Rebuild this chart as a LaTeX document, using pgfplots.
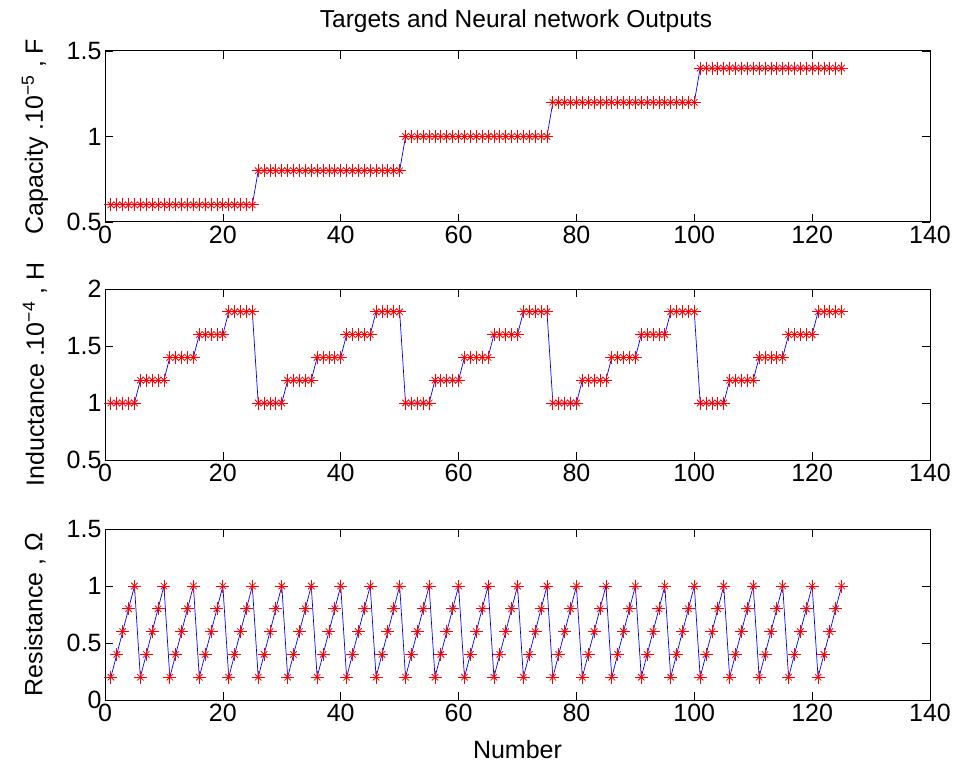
\documentclass[border=0pt]{standalone}
\usepackage{fontspec}
\setmainfont{Liberation Sans}
\usepackage{pgfplots}
\usepackage{pgfplotstable}
\pgfplotsset{compat=1.18}
\pgfplotstableread{
x C L R
1 0.6 1.0 0.2
2 0.6 1.0 0.4
3 0.6 1.0 0.6
4 0.6 1.0 0.8
5 0.6 1.0 1.0
6 0.6 1.2 0.2
7 0.6 1.2 0.4
8 0.6 1.2 0.6
9 0.6 1.2 0.8
10 0.6 1.2 1.0
11 0.6 1.4 0.2
12 0.6 1.4 0.4
13 0.6 1.4 0.6
14 0.6 1.4 0.8
15 0.6 1.4 1.0
16 0.6 1.6 0.2
17 0.6 1.6 0.4
18 0.6 1.6 0.6
19 0.6 1.6 0.8
20 0.6 1.6 1.0
21 0.6 1.8 0.2
22 0.6 1.8 0.4
23 0.6 1.8 0.6
24 0.6 1.8 0.8
25 0.6 1.8 1.0
26 0.8 1.0 0.2
27 0.8 1.0 0.4
28 0.8 1.0 0.6
29 0.8 1.0 0.8
30 0.8 1.0 1.0
31 0.8 1.2 0.2
32 0.8 1.2 0.4
33 0.8 1.2 0.6
34 0.8 1.2 0.8
35 0.8 1.2 1.0
36 0.8 1.4 0.2
37 0.8 1.4 0.4
38 0.8 1.4 0.6
39 0.8 1.4 0.8
40 0.8 1.4 1.0
41 0.8 1.6 0.2
42 0.8 1.6 0.4
43 0.8 1.6 0.6
44 0.8 1.6 0.8
45 0.8 1.6 1.0
46 0.8 1.8 0.2
47 0.8 1.8 0.4
48 0.8 1.8 0.6
49 0.8 1.8 0.8
50 0.8 1.8 1.0
51 1.0 1.0 0.2
52 1.0 1.0 0.4
53 1.0 1.0 0.6
54 1.0 1.0 0.8
55 1.0 1.0 1.0
56 1.0 1.2 0.2
57 1.0 1.2 0.4
58 1.0 1.2 0.6
59 1.0 1.2 0.8
60 1.0 1.2 1.0
61 1.0 1.4 0.2
62 1.0 1.4 0.4
63 1.0 1.4 0.6
64 1.0 1.4 0.8
65 1.0 1.4 1.0
66 1.0 1.6 0.2
67 1.0 1.6 0.4
68 1.0 1.6 0.6
69 1.0 1.6 0.8
70 1.0 1.6 1.0
71 1.0 1.8 0.2
72 1.0 1.8 0.4
73 1.0 1.8 0.6
74 1.0 1.8 0.8
75 1.0 1.8 1.0
76 1.2 1.0 0.2
77 1.2 1.0 0.4
78 1.2 1.0 0.6
79 1.2 1.0 0.8
80 1.2 1.0 1.0
81 1.2 1.2 0.2
82 1.2 1.2 0.4
83 1.2 1.2 0.6
84 1.2 1.2 0.8
85 1.2 1.2 1.0
86 1.2 1.4 0.2
87 1.2 1.4 0.4
88 1.2 1.4 0.6
89 1.2 1.4 0.8
90 1.2 1.4 1.0
91 1.2 1.6 0.2
92 1.2 1.6 0.4
93 1.2 1.6 0.6
94 1.2 1.6 0.8
95 1.2 1.6 1.0
96 1.2 1.8 0.2
97 1.2 1.8 0.4
98 1.2 1.8 0.6
99 1.2 1.8 0.8
100 1.2 1.8 1.0
101 1.4 1.0 0.2
102 1.4 1.0 0.4
103 1.4 1.0 0.6
104 1.4 1.0 0.8
105 1.4 1.0 1.0
106 1.4 1.2 0.2
107 1.4 1.2 0.4
108 1.4 1.2 0.6
109 1.4 1.2 0.8
110 1.4 1.2 1.0
111 1.4 1.4 0.2
112 1.4 1.4 0.4
113 1.4 1.4 0.6
114 1.4 1.4 0.8
115 1.4 1.4 1.0
116 1.4 1.6 0.2
117 1.4 1.6 0.4
118 1.4 1.6 0.6
119 1.4 1.6 0.8
120 1.4 1.6 1.0
121 1.4 1.8 0.2
122 1.4 1.8 0.4
123 1.4 1.8 0.6
124 1.4 1.8 0.8
125 1.4 1.8 1.0
}\data

\pgfplotsset{
  matstyle/.style={
    scale only axis, width=825pt, height=171pt,
    xmin=0, xmax=140, xtick={0,20,...,140},
    tick align=inside, major tick length=8pt,
    axis line style={line width=1pt, black},
    every tick/.style={black, line width=0.6pt},
    ticklabel style={font=\fontsize{25}{30}\selectfont},
    label style={font=\fontsize{25}{30}\selectfont},
    /pgf/number format/assume math mode=true,
    minor tick num=0,
    ylabel style={at={(axis description cs:-0.085,0.5)}, anchor=center},
    xticklabel style={yshift=-1pt},
  },
  tplus/.style={red, only marks, mark=+, mark size=6.5pt, line width=0.8pt},
  tcross/.style={red, only marks, mark=x, mark size=4.6pt, line width=0.8pt},
  outline/.style={blue, line width=0.7pt, no markers},
}

\begin{document}
\begin{tikzpicture}[x=1pt,y=1pt]
\useasboundingbox (0,0) rectangle (960,-767);
\node[font=\fontsize{24.5}{29}\selectfont] at (516,-21) {Targets and Neural network Outputs};

\begin{axis}[matstyle, at={(105pt,-222pt)}, anchor=south west,
  ymin=0.5, ymax=1.5, ytick={0.5,1,1.5},
  ylabel={Capacity .10\textsuperscript{−5} , F}]
\addplot[tplus] table[x=x,y=C]{\data};
\addplot[tcross] table[x=x,y=C]{\data};
\addplot[outline] table[x=x,y=C]{\data};
\end{axis}

\begin{axis}[matstyle, at={(105pt,-460pt)}, anchor=south west,
  ymin=0.5, ymax=2, ytick={0.5,1,1.5,2},
  ylabel={Inductance .10\textsuperscript{−4} , H}]
\addplot[tplus] table[x=x,y=L]{\data};
\addplot[tcross] table[x=x,y=L]{\data};
\addplot[outline] table[x=x,y=L]{\data};
\end{axis}

\begin{axis}[matstyle, at={(105pt,-700pt)}, anchor=south west,
  ymin=0, ymax=1.5, ytick={0,0.5,1,1.5},
  ylabel={Resistance , Ω}, xlabel={Number},
  xlabel style={at={(axis description cs:0.5,0)}, anchor=center, yshift=-50pt}]
\addplot[tplus] table[x=x,y=R]{\data};
\addplot[tcross] table[x=x,y=R]{\data};
\addplot[outline] table[x=x,y=R]{\data};
\end{axis}
\end{tikzpicture}
\end{document}
